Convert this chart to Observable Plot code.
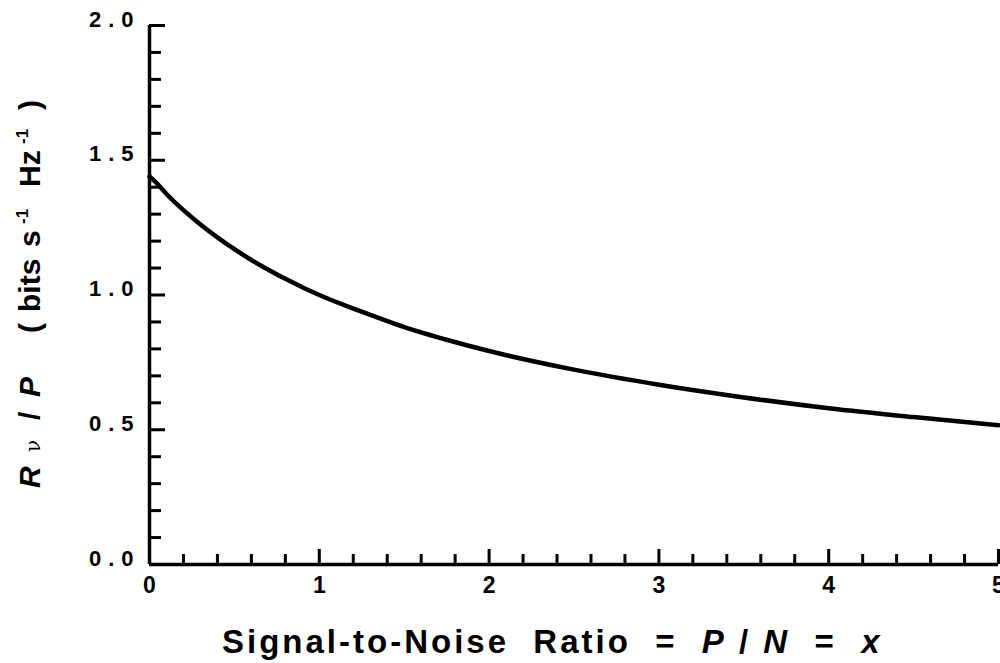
<!DOCTYPE html>
<html><head><meta charset="utf-8">
<script src="https://cdn.jsdelivr.net/npm/d3@7"></script>
<script src="https://cdn.jsdelivr.net/npm/@observablehq/plot@0.6"></script>
<style>
body{margin:0;background:#fff;}
svg text{white-space:pre;}
</style></head><body><div id="chart"></div>
<script>
// Signal-to-noise ratio x = P/N
const snr  = [0, 0.05, 0.1, 0.2, 0.3, 0.4, 0.5, 0.6, 0.7, 0.8, 0.9, 1.0, 1.25, 1.5, 1.75, 2.0, 2.5, 3.0, 3.5, 4.0, 4.5, 5.0];
// R_nu / P (bits s^-1 Hz^-1)
const rate = [1.44, 1.41, 1.375, 1.315, 1.262, 1.214, 1.17, 1.13, 1.094, 1.06, 1.029, 1.0, 0.938, 0.881, 0.834, 0.792, 0.723, 0.667, 0.62, 0.58, 0.547, 0.517];
const xMajor = [0, 1, 2, 3, 4, 5];
const xMinor = [0.2,0.4,0.6,0.8,1.2,1.4,1.6,1.8,2.2,2.4,2.6,2.8,3.2,3.4,3.6,3.8,4.2,4.4,4.6,4.8];
const xTickLabels = ["0","1","2","3","4","5"];
const yMajor = [0, 0.5, 1.0, 1.5, 2.0];
const yMinor = [0.1,0.2,0.3,0.4,0.6,0.7,0.8,0.9,1.1,1.2,1.3,1.4,1.6,1.7,1.8,1.9];
const yTickLabels = ["0.0","0.5","1.0","1.5","2.0"];

const data = snr.map((x, i) => ({x, y: rate[i]}));
const font = "'Liberation Sans', Arial, Helvetica, sans-serif";

const chart = Plot.plot({
  width: 1000, height: 663,
  marginLeft: 149, marginRight: 2, marginTop: 25, marginBottom: 99,
  x: {domain: [0, 5]},
  y: {domain: [0, 2]},
  style: {fontFamily: font, fontWeight: "bold", color: "#000", background: "#fff", overflow: "visible"},
  marks: [
    Plot.line(data, {x: "x", y: "y", strokeWidth: 4.5, curve: "monotone-x", stroke: "#000"}),
    Plot.axisX(xMajor, {tickSize: -15, strokeWidth: 3, tickFormat: () => "", label: null}),
    Plot.axisX(xMinor, {tickSize: -10, strokeWidth: 3, tickFormat: () => "", label: null}),
    Plot.axisY(yMajor, {tickSize: -16, strokeWidth: 3, tickFormat: () => "", label: null}),
    Plot.axisY(yMinor, {tickSize: -12, strokeWidth: 3, tickFormat: () => "", label: null}),
    // tick labels
    Plot.text(xMajor, {x: d => d, text: (d, i) => xTickLabels[i], frameAnchor: "bottom", dy: 28,
                       fontSize: 23, fontWeight: "bold", fontFamily: font, fill: "#000"}),
    Plot.text(yMajor, {y: d => d, text: (d, i) => yTickLabels[i], frameAnchor: "left", textAnchor: "end",
                       dx: -9, dy: -6, fontSize: 22, fontWeight: "bold", fontFamily: font, fill: "#000",
                       ariaLabel: "ytick"}),
    Plot.ruleY([0], {strokeWidth: 3.5}),
    Plot.ruleX([0], {strokeWidth: 3.5})
  ]
});
document.getElementById("chart").appendChild(chart);

const svg = d3.select(chart);
svg.selectAll("text").filter(function() { return yTickLabels.includes(this.textContent); })
   .attr("letter-spacing", "7px");

// x-axis title
const xt = svg.append("text")
  .attr("x", 222).attr("y", 653).attr("text-anchor", "start")
  .attr("font-family", font).attr("font-weight", "bold").attr("font-size", 33)
  .attr("letter-spacing", "3px").attr("fill", "#000");
const xparts = [["Signal-to-Noise  Ratio  =  ", "normal"], ["P", "italic"], [" / ", "normal"], ["N", "italic"], ["  =  ", "normal"], ["x", "italic"]];
xparts.forEach(([t, s]) => xt.append("tspan").attr("font-style", s).text(t));

// y-axis title (rotated; positions measured upward from the bottom of the text)
const yt = svg.append("text")
  .attr("transform", "translate(40,490) rotate(-90)").attr("text-anchor", "start")
  .attr("font-family", font).attr("font-weight", "bold").attr("font-size", 30).attr("fill", "#000");
const yparts = [
  ["R", {"font-style": "italic", x: 2}],
  ["ν", {"font-family": "'DejaVu Serif', serif", "font-weight": "normal", "font-size": 20, x: 38}],
  ["/", {x: 70}],
  ["P", {"font-style": "italic", x: 93}],
  ["(", {x: 157}],
  ["bits", {x: 178}],
  ["s", {x: 243}],
  ["-1", {"font-size": 17, "baseline-shift": 12, x: 266}],
  ["Hz", {x: 303}],
  ["-1", {"font-size": 17, "baseline-shift": 12, x: 346}],
  [")", {x: 380}]
];
yparts.forEach(([t, a]) => {
  const s = yt.append("tspan").text(t);
  Object.entries(a).forEach(([k, v]) => s.attr(k, v));
});
</script></body></html>
